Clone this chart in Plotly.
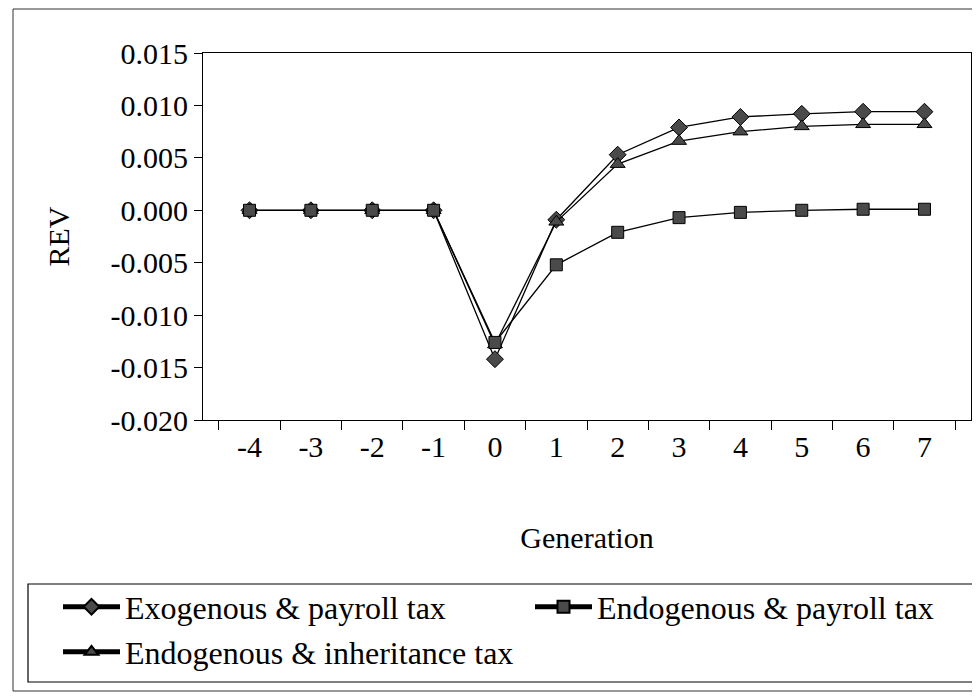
import plotly.graph_objects as go

generations = ["-4", "-3", "-2", "-1", "0", "1", "2", "3", "4", "5", "6", "7"]
exo_payroll = [0.0, 0.0, 0.0, 0.0, -0.0142, -0.0009, 0.0053, 0.0079, 0.0089, 0.0092, 0.0094, 0.0094]
endo_inherit = [0.0, 0.0, 0.0, 0.0, -0.0128, -0.0011, 0.0044, 0.0066, 0.0075, 0.0080, 0.0082, 0.0082]
endo_payroll = [0.0, 0.0, 0.0, 0.0, -0.0126, -0.0052, -0.0021, -0.0007, -0.0002, 0.0000, 0.0001, 0.0001]
y_ticks = [0.015, 0.010, 0.005, 0.000, -0.005, -0.010, -0.015, -0.020]
y_tick_text = ["0.015", "0.010", "0.005", "0.000", "-0.005", "-0.010", "-0.015", "-0.020"]

FONT = "Liberation Serif, Times New Roman, serif"
FS = 30
LFS = 32

# page body has an 8px margin; place everything relative to screen coordinates
OFF = 8
W, H = 980, 700
L, R, T, B = 203 - OFF, 9 + OFF, 53 - OFF, 280 + OFF
pw, ph = W - L - R, H - T - B

def px(x):
    return (x - OFF - L) / pw

def py(y):
    return (H - B - (y - OFF)) / ph

fig = go.Figure()
marker_style = dict(color="#4a4a4a", line=dict(color="black", width=1))
fig.add_trace(go.Scatter(x=generations, y=exo_payroll, mode="lines+markers",
                         name="Exogenous & payroll tax", legend="legend",
                         line=dict(color="black", width=1.3),
                         marker=dict(symbol="diamond", size=13, **marker_style)))
fig.add_trace(go.Scatter(x=generations, y=endo_inherit, mode="lines+markers",
                         name="Endogenous & inheritance tax", legend="legend3",
                         line=dict(color="black", width=1.3),
                         marker=dict(symbol="triangle-up", size=13, **marker_style)))
fig.add_trace(go.Scatter(x=generations, y=endo_payroll, mode="lines+markers",
                         name="Endogenous & payroll tax", legend="legend2",
                         line=dict(color="black", width=1.3),
                         marker=dict(symbol="square", size=12, **marker_style)))

def leg(x, y):
    return dict(x=px(x), y=py(y), xanchor="left", yanchor="middle",
                font=dict(family=FONT, size=LFS, color="black"),
                bgcolor="rgba(0,0,0,0)", borderwidth=0, itemwidth=57,
                itemsizing="constant")

fig.update_layout(
    width=W, height=H,
    margin=dict(l=L, r=R, t=T, b=B, autoexpand=False),
    paper_bgcolor="white", plot_bgcolor="white",
    font=dict(family=FONT, size=FS, color="black"),
    showlegend=True,
    legend=leg(58, 607),
    legend2=leg(530, 607),
    legend3=leg(58, 652),
    xaxis=dict(type="category", tickson="boundaries", ticks="outside", ticklen=9,
               tickcolor="black", showline=True, linecolor="black", linewidth=1,
               mirror=True, showgrid=False, zeroline=False,
               tickfont=dict(family=FONT, size=FS),
               title=dict(text="Generation", font=dict(family=FONT, size=FS), standoff=64)),
    yaxis=dict(range=[-0.020, 0.015], tickvals=y_ticks, ticktext=y_tick_text,
               ticks="outside", ticklen=8, tickcolor="black",
               showline=True, linecolor="black", linewidth=1, mirror=True,
               showgrid=False, zeroline=False,
               tickfont=dict(family=FONT, size=FS),
               title=dict(text="REV", font=dict(family=FONT, size=FS), standoff=32)),
    shapes=[
        dict(type="rect", xref="paper", yref="paper",
             x0=px(28), x1=px(1000), y0=py(682), y1=py(584),
             line=dict(color="black", width=1.2), fillcolor="rgba(0,0,0,0)", layer="below"),
        dict(type="rect", xref="paper", yref="paper",
             x0=px(13), x1=px(1000), y0=py(691), y1=py(9),
             line=dict(color="#333", width=1), fillcolor="rgba(0,0,0,0)", layer="below"),
    ],
)

fig.write_html("out.html")
